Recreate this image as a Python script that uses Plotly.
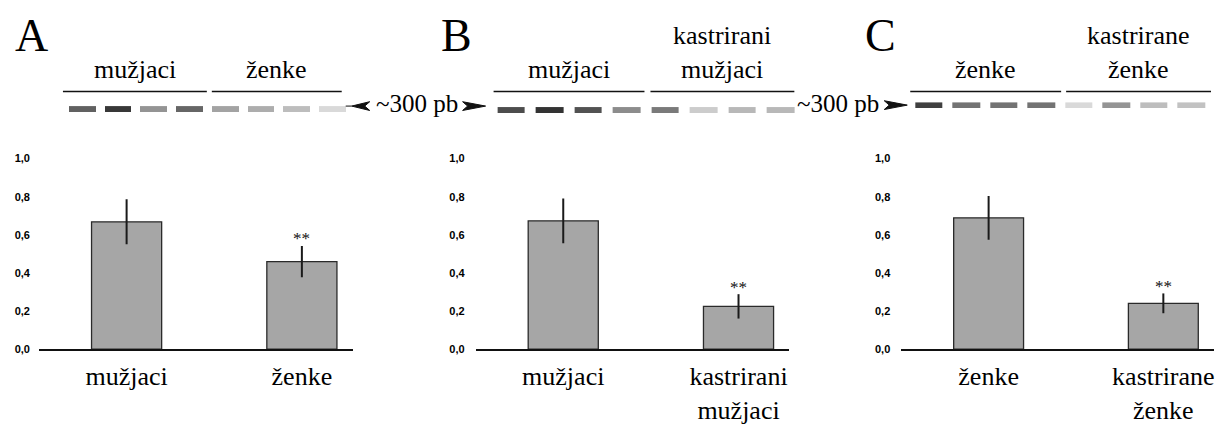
import plotly.graph_objects as go

# ---------------- data ----------------
panel_letters = ["A", "B", "C"]

categories_A = ["mužjaci", "ženke"]
means_A = [0.668, 0.459]
errors_A = [0.118, 0.082]
sig_A = ["", "**"]

categories_B = ["mužjaci", "kastrirani<br>mužjaci"]
means_B = [0.673, 0.224]
errors_B = [0.118, 0.064]
sig_B = ["", "**"]

categories_C = ["ženke", "kastrirane<br>ženke"]
means_C = [0.689, 0.240]
errors_C = [0.115, 0.052]
sig_C = ["", "**"]

gel_groups_A = ["mužjaci", "ženke"]
gel_groups_B = ["mužjaci", "kastrirani<br>mužjaci"]
gel_groups_C = ["ženke", "kastrirane<br>ženke"]

lanes = [1, 2, 3, 4, 5, 6, 7, 8]
band_A = [0.62, 0.78, 0.42, 0.60, 0.36, 0.32, 0.26, 0.15]
band_B = [0.70, 0.80, 0.68, 0.45, 0.52, 0.20, 0.28, 0.28]
band_C = [0.75, 0.55, 0.55, 0.55, 0.15, 0.42, 0.26, 0.24]

y_ticks = [0.0, 0.2, 0.4, 0.6, 0.8, 1.0]
y_tick_labels = ["0,0", "0,2", "0,4", "0,6", "0,8", "1,0"]
marker_label = "~300 pb"

# ---------------- layout helpers (pixels) ----------------
W, H = 1219, 425
def fx(px):
    return px / W
def fy(py):
    return 1 - py / H

SERIF = "Liberation Serif"
SANS = "Liberation Sans"

panels = [
    dict(letter=panel_letters[0], cats=categories_A, means=means_A, errs=errors_A, sig=sig_A,
         groups=gel_groups_A, bands=band_A,
         bar_dom=(39, 353), standoff=8, letter_x=32,
         gel_dom=(65, 351), gel_y=106, gap=9,
         group_lines=[(63, 207), (212, 342)]),
    dict(letter=panel_letters[1], cats=categories_B, means=means_B, errs=errors_B, sig=sig_B,
         groups=gel_groups_B, bands=band_B,
         bar_dom=(476, 790), standoff=10, letter_x=457,
         gel_dom=(493, 801), gel_y=107, gap=11,
         group_lines=[(494, 645), (651, 795)]),
    dict(letter=panel_letters[2], cats=categories_C, means=means_C, errs=errors_C, sig=sig_C,
         groups=gel_groups_C, bands=band_C,
         bar_dom=(902, 1215), standoff=10, letter_x=881,
         gel_dom=(911, 1211), gel_y=102, gap=10,
         group_lines=[(911, 1062), (1067, 1212)]),
]

fig = go.Figure()
layout = dict(
    width=W, height=H, margin=dict(l=0, r=0, t=0, b=0),
    paper_bgcolor="white", plot_bgcolor="white",
    showlegend=False, separators=",.",
)
annotations = []
shapes = []

for i, p in enumerate(panels):
    n = i + 1
    xa = "x" if n == 1 else f"x{n}"
    ya = "y" if n == 1 else f"y{n}"
    xkey = "xaxis" if n == 1 else f"xaxis{n}"
    ykey = "yaxis" if n == 1 else f"yaxis{n}"

    xs = list(range(len(p["cats"])))
    fig.add_trace(go.Bar(
        x=xs, y=p["means"], width=0.4,
        marker=dict(color="#a6a6a6", line=dict(color="#2a2a2a", width=1.3)),
        error_y=dict(type="data", array=p["errs"], visible=True,
                     color="#1a1a1a", thickness=2, width=0),
        xaxis=xa, yaxis=ya,
    ))
    layout[xkey] = dict(
        domain=[fx(p["bar_dom"][0]), fx(p["bar_dom"][1])],
        range=[-0.5, 1.29], anchor=ya,
        tickvals=xs, ticktext=p["cats"], ticks="",
        ticklabelstandoff=3,
        tickfont=dict(family=SERIF, size=26, color="black"),
        showline=True, linecolor="#111", linewidth=1.5,
        showgrid=False, zeroline=False, fixedrange=True,
    )
    layout[ykey] = dict(
        domain=[fy(353), fy(157)], range=[0, 1.0], anchor=xa,
        tickvals=y_ticks, ticktext=[f"<b>{t}</b>" for t in y_tick_labels], ticks="",
        ticklabelstandoff=p["standoff"],
        tickfont=dict(family=SANS, size=11, color="#000"),
        showline=False, showgrid=False, zeroline=False, fixedrange=True,
    )
    for j, s in enumerate(p["sig"]):
        if s:
            annotations.append(dict(
                x=xs[j], y=p["means"][j] + p["errs"][j], xref=xa, yref=ya,
                text=s, showarrow=False, yanchor="middle", yshift=7,
                font=dict(family=SERIF, size=17, color="#111"),
            ))

    # gel bands
    m = n + 3
    gxa, gya = f"x{m}", f"y{m}"
    fig.add_trace(go.Heatmap(
        z=[p["bands"]], x=lanes, y=[0],
        colorscale=[[0, "white"], [1, "black"]], zmin=0, zmax=1,
        showscale=False, xgap=p["gap"], hoverinfo="skip",
        xaxis=gxa, yaxis=gya,
    ))
    layout[f"xaxis{m}"] = dict(domain=[fx(p["gel_dom"][0]), fx(p["gel_dom"][1])],
                               range=[0.5, 8.5], visible=False, anchor=gya, fixedrange=True)
    layout[f"yaxis{m}"] = dict(domain=[fy(p["gel_y"] + 3), fy(p["gel_y"] - 3)],
                               range=[-0.5, 0.5], visible=False, anchor=gxa, fixedrange=True)

    # panel letter
    annotations.append(dict(
        x=fx(p["letter_x"]), y=fy(30), xref="paper", yref="paper",
        text=p["letter"], showarrow=False, xanchor="center", yanchor="middle",
        font=dict(family=SERIF, size=46, color="black"),
    ))
    # group labels and lines
    for (x0, x1), g in zip(p["group_lines"], p["groups"]):
        shapes.append(dict(type="line", xref="paper", yref="paper",
                           x0=fx(x0), x1=fx(x1), y0=fy(88), y1=fy(88),
                           line=dict(color="#111", width=1.3)))
        annotations.append(dict(
            x=fx((x0 + x1) / 2), y=fy(82), xref="paper", yref="paper",
            text=g, showarrow=False, xanchor="center", yanchor="bottom",
            font=dict(family=SERIF, size=26, color="black"),
        ))

# "~300 pb" markers
for cx in (417, 839):
    annotations.append(dict(
        x=fx(cx), y=fy(100), xref="paper", yref="paper",
        text=marker_label, showarrow=False, xanchor="center", yanchor="middle",
        font=dict(family=SERIF, size=25, color="black"),
    ))

def arrow_path(x_tail, x_tip, yc, half=4.5, notch=5):
    d = 1 if x_tip > x_tail else -1
    pts = [(x_tail, yc - half), (x_tip, yc), (x_tail, yc + half), (x_tail + d * notch, yc)]
    s = "M " + " L ".join(f"{fx(a):.5f},{fy(b):.5f}" for a, b in pts) + " Z"
    return s

for tail, tip, yc in ((370, 352, 103), (463, 486, 103), (885, 908, 102)):
    shapes.append(dict(type="path", xref="paper", yref="paper",
                       path=arrow_path(tail, tip, yc),
                       fillcolor="#111", line=dict(color="#111", width=1)))
shapes.append(dict(type="line", xref="paper", yref="paper",
                   x0=fx(346), x1=fx(352), y0=fy(103), y1=fy(103),
                   line=dict(color="#333", width=1.2)))

layout["annotations"] = annotations
layout["shapes"] = shapes
fig.update_layout(**layout)

fig.write_html("out.html", config={"displayModeBar": False},
               post_script="document.body.style.margin='0';document.body.style.padding='0';")
